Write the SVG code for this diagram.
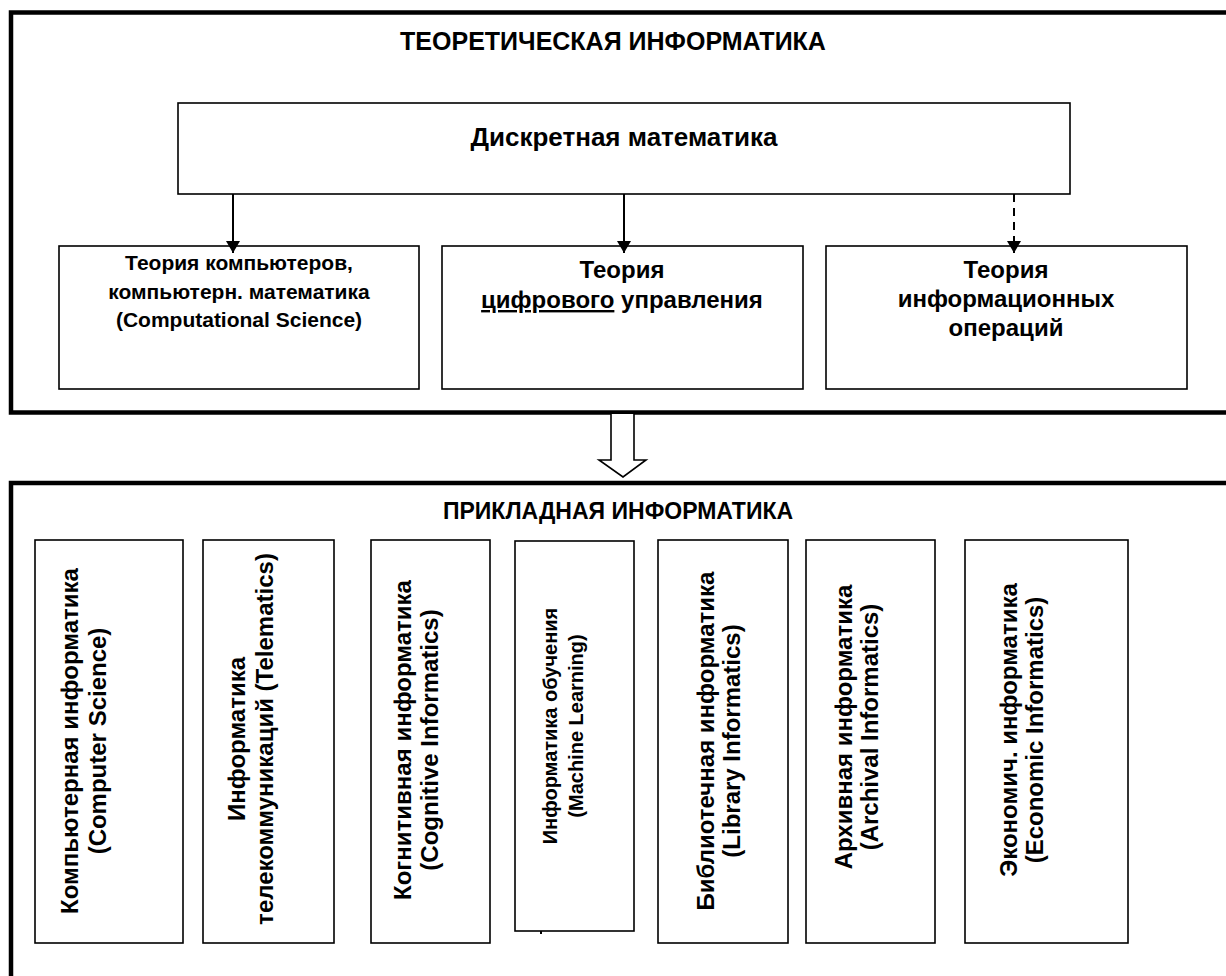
<svg xmlns="http://www.w3.org/2000/svg" width="1226" height="976" viewBox="0 0 1226 976">
<defs>
<style>
.frame{fill:none;stroke:#000;stroke-width:4.5}
.box{fill:#fff;stroke:#000;stroke-width:1.6}
.t{font-family:"Liberation Sans",Arial,sans-serif;font-weight:bold;fill:#000;text-anchor:middle}
.conn{stroke:#000;stroke-width:2;fill:none}
</style>
<marker id="ah" viewBox="0 0 12 14" refX="12" refY="7" markerWidth="12" markerHeight="14" markerUnits="userSpaceOnUse" orient="auto">
<path d="M0,0 L12,7 L0,14 Z" fill="#000"/>
</marker>
</defs>
<rect width="1226" height="976" fill="#fff"/>

<g id="theory">
<rect class="frame" x="11" y="12.5" width="1230" height="400"/>
<text class="t" x="613" y="50" font-size="25">ТЕОРЕТИЧЕСКАЯ ИНФОРМАТИКА</text>
</g>

<g id="discrete">
<rect class="box" x="178" y="103" width="892" height="91"/>
<text class="t" x="624" y="146" font-size="26">Дискретная математика</text>
</g>

<g id="comp-theory">
<rect class="box" x="59" y="246" width="360" height="143"/>
<text class="t" font-size="21"><tspan x="239" y="270">Теория компьютеров,</tspan><tspan x="239" y="299">компьютерн. математика</tspan><tspan x="239" y="327">(Computational Science)</tspan></text>
</g>

<g id="digital-control">
<rect class="box" x="442" y="246" width="361" height="143"/>
<text class="t" font-size="24"><tspan x="622" y="278">Теория</tspan><tspan x="622" y="308"><tspan text-decoration="underline">цифрового</tspan> управления</tspan></text>
</g>

<g id="info-ops">
<rect class="box" x="826" y="246" width="361" height="143"/>
<text class="t" font-size="24"><tspan x="1006" y="278">Теория</tspan><tspan x="1006" y="307">информационных</tspan><tspan x="1006" y="336">операций</tspan></text>
</g>

<g id="applied">
<rect class="frame" x="11" y="483" width="1230" height="520"/>
<text class="t" x="618" y="519" font-size="23">ПРИКЛАДНАЯ ИНФОРМАТИКА</text>
</g>

<g id="cs">
<rect class="box" x="35" y="540" width="148" height="403"/>
<text class="t" font-size="24" transform="translate(0,741) rotate(-90)"><tspan x="0" y="78">Компьютерная информатика</tspan><tspan x="0" y="106">(Computer Science)</tspan></text>
</g>

<g id="telematics">
<rect class="box" x="203" y="540" width="131" height="403"/>
<text class="t" font-size="24" transform="translate(0,739) rotate(-90)"><tspan x="0" y="245">Информатика</tspan><tspan x="0" y="273">телекоммуникаций (Telematics)</tspan></text>
</g>

<g id="cognitive">
<rect class="box" x="371" y="540" width="119" height="403"/>
<text class="t" font-size="24" transform="translate(0,740) rotate(-90)"><tspan x="0" y="411">Когнитивная информатика</tspan><tspan x="0" y="438">(Cognitive Informatics)</tspan></text>
</g>

<g id="ml">
<rect class="box" x="515" y="541" width="119" height="390"/>
<text class="t" font-size="20" transform="translate(0,726) rotate(-90)"><tspan x="0" y="557">Информатика обучения</tspan><tspan x="0" y="583">(Machine Learning)</tspan></text>
<rect x="540" y="931" width="2" height="3" fill="#000"/>
</g>

<g id="library">
<rect class="box" x="658" y="540" width="130" height="403"/>
<text class="t" font-size="24" transform="translate(0,741) rotate(-90)"><tspan x="0" y="714">Библиотечная информатика</tspan><tspan x="0" y="740">(Library Informatics)</tspan></text>
</g>

<g id="archival">
<rect class="box" x="806" y="540" width="129" height="403"/>
<text class="t" font-size="24" transform="translate(0,727) rotate(-90)"><tspan x="0" y="852">Архивная информатика</tspan><tspan x="0" y="878">(Archival Informatics)</tspan></text>
</g>

<g id="economic">
<rect class="box" x="965" y="540" width="163" height="403"/>
<text class="t" font-size="24" transform="translate(0,730) rotate(-90)"><tspan x="0" y="1017">Экономич. информатика</tspan><tspan x="0" y="1043">(Economic Informatics)</tspan></text>
</g>

<g id="connectors">
<line class="conn" x1="233" y1="194" x2="233" y2="253" marker-end="url(#ah)"/>
<line class="conn" x1="624" y1="194" x2="624" y2="253" marker-end="url(#ah)"/>
<line class="conn" x1="1014" y1="194" x2="1014" y2="253" stroke-dasharray="8,6" marker-end="url(#ah)"/>
<path d="M611,414 L611,460 L599,460 L623,477 L646,460 L634,460 L634,414" fill="#fff" stroke="#000" stroke-width="1.6"/>
</g>
</svg>
